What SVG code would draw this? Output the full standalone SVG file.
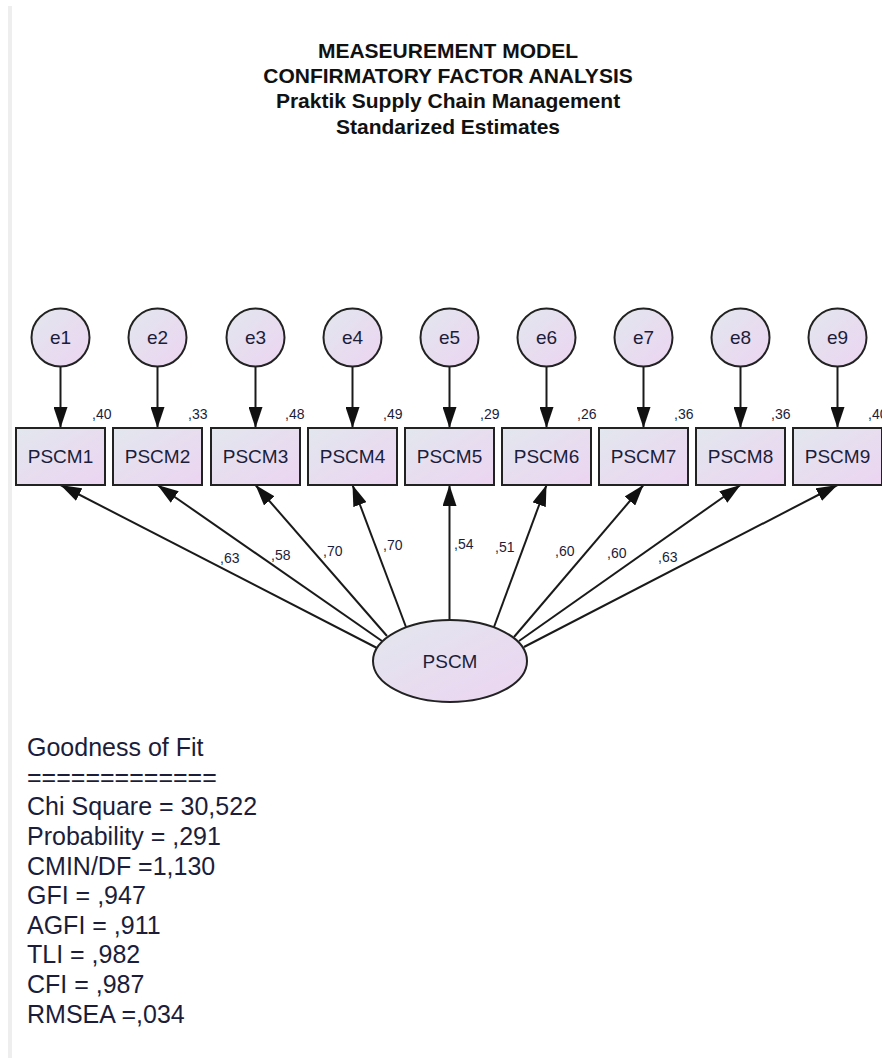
<svg xmlns="http://www.w3.org/2000/svg" width="882" height="1058" viewBox="0 0 882 1058">
  <style>
    .title { font-family: "Liberation Sans", Arial, sans-serif; font-weight: bold; font-size: 21px; fill: #111; text-anchor: middle; }
    .node-shape { fill: url(#nodeFill); stroke: #222; stroke-width: 2; }
    .node-label { font-family: "Liberation Sans", Arial, sans-serif; font-size: 19px; fill: #1b1d3a; text-anchor: middle; }
    .est { font-family: "Liberation Sans", Arial, sans-serif; font-size: 14px; fill: #1b1d3a; }
    .path { stroke: #1a1a1a; stroke-width: 2; fill: none; marker-end: url(#head); }
    .fit { font-family: "Liberation Sans", Arial, sans-serif; font-size: 25px; fill: #1b1d3a; }
  </style>
  <defs>
    <linearGradient id="nodeFill" x1="0" y1="0" x2="1" y2="1">
      <stop offset="0" stop-color="#e2e7ee"/>
      <stop offset="1" stop-color="#ecd4f1"/>
    </linearGradient>
    <marker id="head" markerUnits="userSpaceOnUse" markerWidth="21" markerHeight="14" refX="21" refY="7" orient="auto">
      <path d="M0,0 L21,7 L0,14 Z" fill="#111"/>
    </marker>
  </defs>

  <rect width="882" height="1058" fill="#ffffff"/>
  <rect x="8" y="6" width="4" height="1052" fill="#eeeeee"/>

  <!-- heading -->
  <g id="heading">
    <text class="title" x="448" y="58">MEASEUREMENT MODEL</text>
    <text class="title" x="448" y="83">CONFIRMATORY FACTOR ANALYSIS</text>
    <text class="title" x="448" y="108">Praktik Supply Chain Management</text>
    <text class="title" x="448" y="134">Standarized Estimates</text>
  </g>

  <!-- paths: error terms to indicators, factor to indicators -->
  <g id="connectors">
    <line class="path" x1="60.5" y1="367" x2="60.5" y2="428"/>
    <line class="path" x1="157.5" y1="367" x2="157.5" y2="428"/>
    <line class="path" x1="255.5" y1="367" x2="255.5" y2="428"/>
    <line class="path" x1="352.5" y1="367" x2="352.5" y2="428"/>
    <line class="path" x1="449.5" y1="367" x2="449.5" y2="428"/>
    <line class="path" x1="546.5" y1="367" x2="546.5" y2="428"/>
    <line class="path" x1="643.5" y1="367" x2="643.5" y2="428"/>
    <line class="path" x1="740.5" y1="367" x2="740.5" y2="428"/>
    <line class="path" x1="837.5" y1="367" x2="837.5" y2="428"/>

    <line class="path" x1="377" y1="648" x2="60.5" y2="485"/>
    <line class="path" x1="382" y1="641" x2="157.5" y2="485"/>
    <line class="path" x1="387" y1="636" x2="255.5" y2="485"/>
    <line class="path" x1="406" y1="627" x2="352.5" y2="485"/>
    <line class="path" x1="449.5" y1="620" x2="449.5" y2="485"/>
    <line class="path" x1="494" y1="627" x2="546.5" y2="485"/>
    <line class="path" x1="514" y1="637" x2="643.5" y2="485"/>
    <line class="path" x1="519" y1="641" x2="740.5" y2="485"/>
    <line class="path" x1="524" y1="647" x2="837.5" y2="485"/>

    <!-- standardized loadings -->
    <text class="est" x="220" y="563">,63</text>
    <text class="est" x="271" y="560">,58</text>
    <text class="est" x="323" y="556">,70</text>
    <text class="est" x="383" y="550">,70</text>
    <text class="est" x="454" y="549">,54</text>
    <text class="est" x="495" y="552">,51</text>
    <text class="est" x="555" y="556">,60</text>
    <text class="est" x="607" y="558">,60</text>
    <text class="est" x="658" y="562">,63</text>
  </g>

  <!-- error terms -->
  <g id="e1"><circle class="node-shape" cx="60.5" cy="337.5" r="29"/><text class="node-label" x="60.5" y="344">e1</text></g>
  <g id="e2"><circle class="node-shape" cx="157.5" cy="337.5" r="29"/><text class="node-label" x="157.5" y="344">e2</text></g>
  <g id="e3"><circle class="node-shape" cx="255.5" cy="337.5" r="29"/><text class="node-label" x="255.5" y="344">e3</text></g>
  <g id="e4"><circle class="node-shape" cx="352.5" cy="337.5" r="29"/><text class="node-label" x="352.5" y="344">e4</text></g>
  <g id="e5"><circle class="node-shape" cx="449.5" cy="337.5" r="29"/><text class="node-label" x="449.5" y="344">e5</text></g>
  <g id="e6"><circle class="node-shape" cx="546.5" cy="337.5" r="29"/><text class="node-label" x="546.5" y="344">e6</text></g>
  <g id="e7"><circle class="node-shape" cx="643.5" cy="337.5" r="29"/><text class="node-label" x="643.5" y="344">e7</text></g>
  <g id="e8"><circle class="node-shape" cx="740.5" cy="337.5" r="29"/><text class="node-label" x="740.5" y="344">e8</text></g>
  <g id="e9"><circle class="node-shape" cx="837.5" cy="337.5" r="29"/><text class="node-label" x="837.5" y="344">e9</text></g>

  <!-- observed indicators with squared multiple correlations -->
  <g id="PSCM1"><rect class="node-shape" x="16" y="428" width="89" height="57"/><text class="node-label" x="60.5" y="463">PSCM1</text><text class="est" x="92" y="419">,40</text></g>
  <g id="PSCM2"><rect class="node-shape" x="113" y="428" width="89" height="57"/><text class="node-label" x="157.5" y="463">PSCM2</text><text class="est" x="188" y="419">,33</text></g>
  <g id="PSCM3"><rect class="node-shape" x="211" y="428" width="89" height="57"/><text class="node-label" x="255.5" y="463">PSCM3</text><text class="est" x="285" y="419">,48</text></g>
  <g id="PSCM4"><rect class="node-shape" x="308" y="428" width="89" height="57"/><text class="node-label" x="352.5" y="463">PSCM4</text><text class="est" x="383" y="419">,49</text></g>
  <g id="PSCM5"><rect class="node-shape" x="405" y="428" width="89" height="57"/><text class="node-label" x="449.5" y="463">PSCM5</text><text class="est" x="480" y="419">,29</text></g>
  <g id="PSCM6"><rect class="node-shape" x="502" y="428" width="89" height="57"/><text class="node-label" x="546.5" y="463">PSCM6</text><text class="est" x="577" y="419">,26</text></g>
  <g id="PSCM7"><rect class="node-shape" x="599" y="428" width="89" height="57"/><text class="node-label" x="643.5" y="463">PSCM7</text><text class="est" x="674" y="419">,36</text></g>
  <g id="PSCM8"><rect class="node-shape" x="696" y="428" width="89" height="57"/><text class="node-label" x="740.5" y="463">PSCM8</text><text class="est" x="771" y="419">,36</text></g>
  <g id="PSCM9"><rect class="node-shape" x="793" y="428" width="89" height="57"/><text class="node-label" x="837.5" y="463">PSCM9</text><text class="est" x="868" y="419">,40</text></g>

  <!-- latent factor -->
  <g id="PSCM"><ellipse class="node-shape" cx="450" cy="661" rx="77" ry="41"/><text class="node-label" x="450" y="668">PSCM</text></g>

  <!-- fit statistics -->
  <g id="fit-summary">
    <text class="fit" x="27" y="756">Goodness of Fit</text>
    <text class="fit" x="27" y="786">=============</text>
    <text class="fit" x="27" y="815">Chi Square = 30,522</text>
    <text class="fit" x="27" y="845">Probability = ,291</text>
    <text class="fit" x="27" y="875">CMIN/DF =1,130</text>
    <text class="fit" x="27" y="904">GFI = ,947</text>
    <text class="fit" x="27" y="934">AGFI = ,911</text>
    <text class="fit" x="27" y="963">TLI = ,982</text>
    <text class="fit" x="27" y="993">CFI = ,987</text>
    <text class="fit" x="27" y="1023">RMSEA =,034</text>
  </g>
</svg>
